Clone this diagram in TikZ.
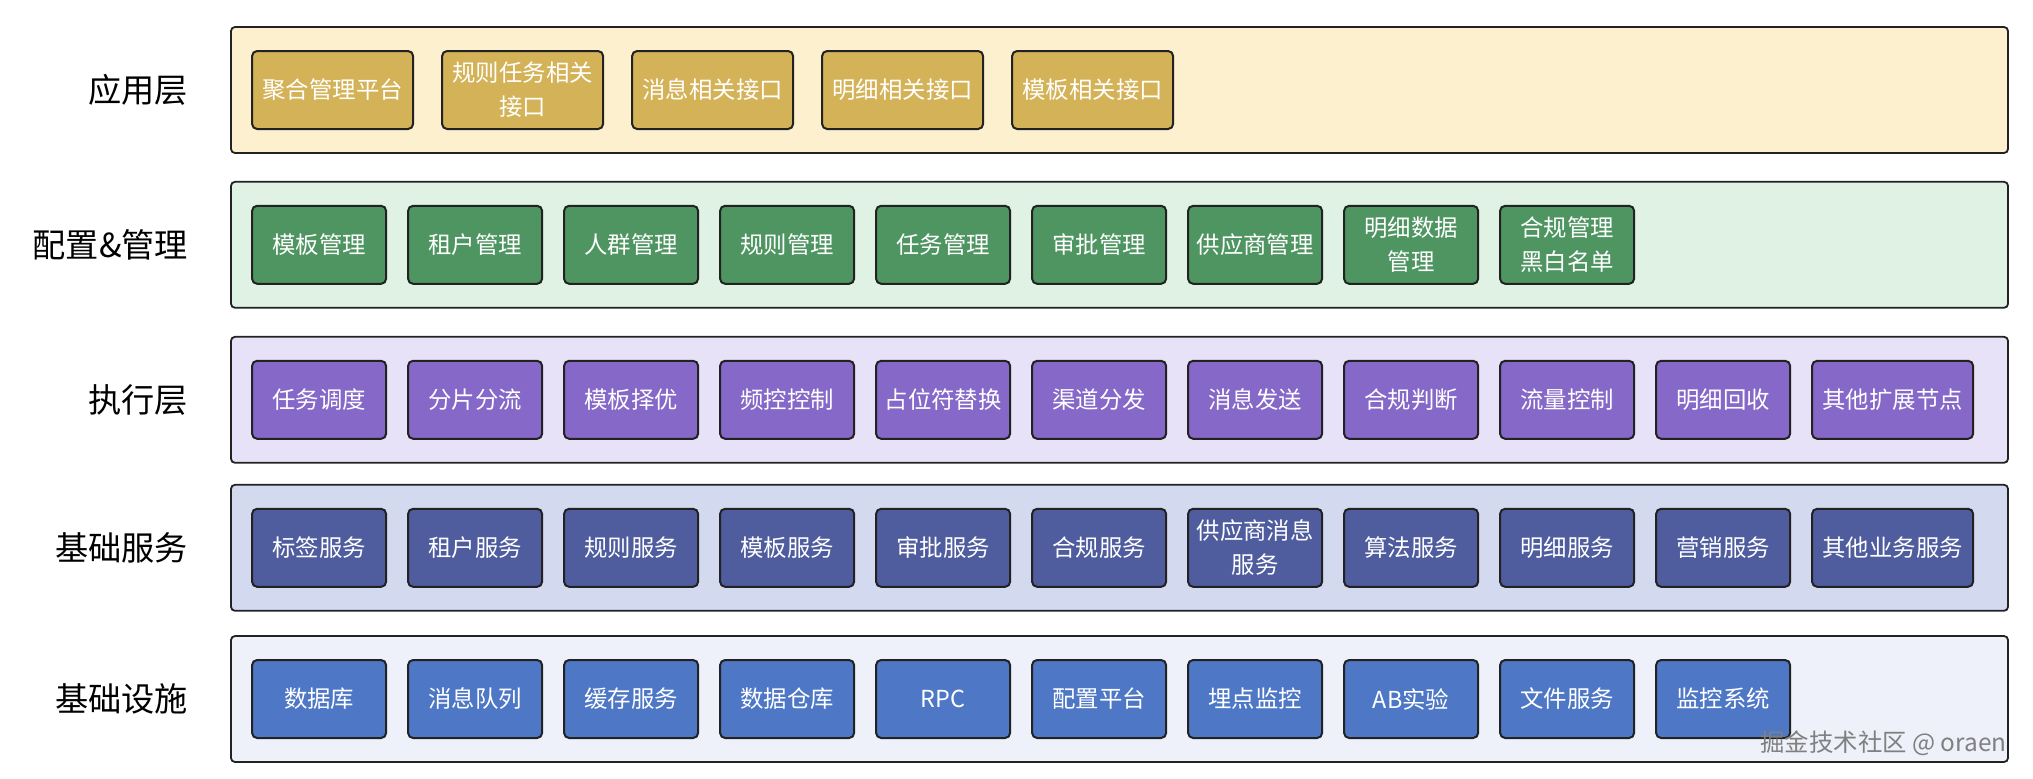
\documentclass[tikz,border=0pt]{standalone}
\usepackage{fontspec}
\setmainfont{Noto Sans CJK SC}
\usetikzlibrary{positioning}
\definecolor{linec}{HTML}{222222}
\definecolor{appbg}{HTML}{FDF0CF}
\definecolor{appfg}{HTML}{D4B257}
\definecolor{cfgbg}{HTML}{E0F2E3}
\definecolor{cfgfg}{HTML}{4F9562}
\definecolor{exebg}{HTML}{E8E2F8}
\definecolor{exefg}{HTML}{8568C8}
\definecolor{svcbg}{HTML}{D3D9EF}
\definecolor{svcfg}{HTML}{4F5D9F}
\definecolor{infbg}{HTML}{EEF1FA}
\definecolor{inffg}{HTML}{4E78C6}

\begin{document}
\begin{tikzpicture}[
    node distance=10pt,
    band/.style={draw=linec,line width=0.9pt,rounded corners=2pt,
                 minimum width=888.5pt,minimum height=63pt,inner sep=0pt},
    item/.style={draw=linec,line width=1pt,rounded corners=2.5pt,align=center,text=white,
                 font=\fontsize{11.7}{17}\selectfont,minimum width=67pt,minimum height=39pt,inner sep=1pt},
    wide/.style={item,minimum width=80.5pt},
    lbl/.style={font=\fontsize{16.6}{20}\selectfont},
    appitem/.style={wide,fill=appfg},
    cfgitem/.style={item,fill=cfgfg},
    exeitem/.style={item,fill=exefg},
    svcitem/.style={item,fill=svcfg},
    infitem/.style={item,fill=inffg},
  ]
  \useasboundingbox (0,0) rectangle (1016.5pt,-389pt);

  % layers
  \node[band,fill=appbg] (app) at (559.75pt,-45pt) {};
  \node[band,fill=cfgbg] (cfg) at (559.75pt,-122.4pt) {};
  \node[band,fill=exebg] (exe) at (559.75pt,-199.9pt) {};
  \node[band,fill=svcbg] (svc) at (559.75pt,-273.9pt) {};
  \node[band,fill=infbg] (inf) at (559.75pt,-349.5pt) {};

  \node[lbl,left=17.5pt of app.west] (applbl) {应用层};
  \node[lbl,left=17.5pt of cfg.west] (cfglbl) {配置\&管理};
  \node[lbl,left=17.5pt of exe.west] (exelbl) {执行层};
  \node[lbl,left=17.5pt of svc.west] (svclbl) {基础服务};
  \node[lbl,left=17.5pt of inf.west] (inflbl) {基础设施};

  % application
  \node[appitem,right=10.5pt of app.west] (a1) {聚合管理平台};
  \node[appitem,right=13.5pt of a1] (a2) {规则任务相关\\接口};
  \node[appitem,right=13.5pt of a2] (a3) {消息相关接口};
  \node[appitem,right=13.5pt of a3] (a4) {明细相关接口};
  \node[appitem,right=13.5pt of a4] (a5) {模板相关接口};

  % config & management
  \node[cfgitem,right=10.5pt of cfg.west] (c1) {模板管理};
  \node[cfgitem,right=of c1] (c2) {租户管理};
  \node[cfgitem,right=of c2] (c3) {人群管理};
  \node[cfgitem,right=of c3] (c4) {规则管理};
  \node[cfgitem,right=of c4] (c5) {任务管理};
  \node[cfgitem,right=of c5] (c6) {审批管理};
  \node[cfgitem,right=of c6] (c7) {供应商管理};
  \node[cfgitem,right=of c7] (c8) {明细数据\\管理};
  \node[cfgitem,right=of c8] (c9) {合规管理\\黑白名单};

  % execution
  \node[exeitem,right=10.5pt of exe.west] (e1) {任务调度};
  \node[exeitem,right=of e1] (e2) {分片分流};
  \node[exeitem,right=of e2] (e3) {模板择优};
  \node[exeitem,right=of e3] (e4) {频控控制};
  \node[exeitem,right=of e4] (e5) {占位符替换};
  \node[exeitem,right=of e5] (e6) {渠道分发};
  \node[exeitem,right=of e6] (e7) {消息发送};
  \node[exeitem,right=of e7] (e8) {合规判断};
  \node[exeitem,right=of e8] (e9) {流量控制};
  \node[exeitem,right=of e9] (e10) {明细回收};
  \node[exeitem,wide,right=of e10] (e11) {其他扩展节点};

  % basic services
  \node[svcitem,right=10.5pt of svc.west] (s1) {标签服务};
  \node[svcitem,right=of s1] (s2) {租户服务};
  \node[svcitem,right=of s2] (s3) {规则服务};
  \node[svcitem,right=of s3] (s4) {模板服务};
  \node[svcitem,right=of s4] (s5) {审批服务};
  \node[svcitem,right=of s5] (s6) {合规服务};
  \node[svcitem,right=of s6] (s7) {供应商消息\\服务};
  \node[svcitem,right=of s7] (s8) {算法服务};
  \node[svcitem,right=of s8] (s9) {明细服务};
  \node[svcitem,right=of s9] (s10) {营销服务};
  \node[svcitem,wide,right=of s10] (s11) {其他业务服务};

  % infrastructure
  \node[infitem,right=10.5pt of inf.west] (i1) {数据库};
  \node[infitem,right=of i1] (i2) {消息队列};
  \node[infitem,right=of i2] (i3) {缓存服务};
  \node[infitem,right=of i3] (i4) {数据仓库};
  \node[infitem,right=of i4] (i5) {RPC};
  \node[infitem,right=of i5] (i6) {配置平台};
  \node[infitem,right=of i6] (i7) {埋点监控};
  \node[infitem,right=of i7] (i8) {AB实验};
  \node[infitem,right=of i8] (i9) {文件服务};
  \node[infitem,right=of i9] (i10) {监控系统};

  \node[font=\fontsize{12.2}{14}\selectfont,text=black!50,anchor=east,inner sep=0pt]
    (wm) at (1003.5pt,-371.5pt) {掘金技术社区 @ oraen};
\end{tikzpicture}
\end{document}
